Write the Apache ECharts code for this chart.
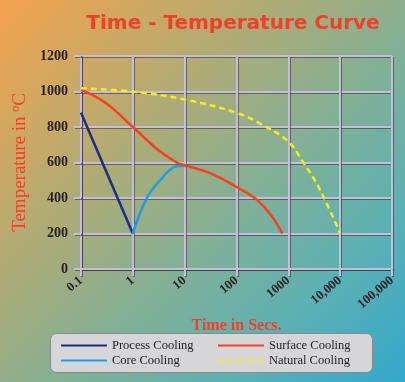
<!DOCTYPE html>
<html><head><meta charset="utf-8">
<script src="https://cdn.jsdelivr.net/npm/echarts@6/dist/echarts.min.js"></script>
<style>
html,body{margin:0;padding:0;}
body{width:405px;height:382px;background:linear-gradient(135deg,#f4a24c 0%,#d0a862 18%,#a8ac7a 38%,#80b098 58%,#5cb0b4 78%,#34a8cc 100%);}
#c{width:405px;height:382px;}
</style></head>
<body><div id="c"></div>
<script>
const xTickLabels = {'0.1':'0.1','1':'1','10':'10','100':'100','1000':'1000','10000':'10,000','100000':'100,000'};
const seriesNames = ['Process Cooling','Core Cooling','Surface Cooling','Natural Cooling'];
const processCooling = [[0.1,880],[1,200]];
const coreCooling = [[1,200],[1.9,405],[3.8,518],[6,572],[8.5,582],[11,580]];
const surfaceCooling = [[0.1,1010],[0.3,935],[1,800],[3.1,670],[7,600],[10,585],[31,540],[100,462],[250,389],[500,290],[760,200]];
const naturalCooling = [[0.1,1018],[1,999],[10,955],[100,880],[320,811],[1000,717],[1900,605],[4100,445],[10000,200]];

const chart = echarts.init(document.getElementById('c'), null, {renderer:'canvas'});
const gridLine = {color:'#c6bed6', width:2, shadowColor:'rgba(50,40,60,0.55)', shadowBlur:0, shadowOffsetX:1, shadowOffsetY:1};
const serif = '"Liberation Serif","DejaVu Serif",serif';
chart.setOption({
  backgroundColor:'transparent',
  animation:false,
  title:{text:'Time - Temperature Curve', left:228, top:9, textAlign:'center',
    textStyle:{fontFamily:'"DejaVu Sans",sans-serif', fontWeight:'bold', fontSize:20, color:'#f0402a'}},
  graphic:[{type:'rect', left:50, top:333, shape:{width:322, height:39, r:6},
    style:{fill:'#d6d6d8', stroke:'#8a8a8a', lineWidth:1}}],
  legend:[
    {data:['Process Cooling','Core Cooling'], orient:'vertical', left:55, top:334, itemWidth:46, itemHeight:10, itemGap:2,
     itemStyle:{opacity:0}, textStyle:{fontFamily:serif, fontSize:12.5, color:'#222'}},
    {data:['Surface Cooling','Natural Cooling'], orient:'vertical', left:212, top:334, itemWidth:46, itemHeight:10, itemGap:2,
     itemStyle:{opacity:0}, textStyle:{fontFamily:serif, fontSize:12.5, color:'#222'}}
  ],
  grid:{left:81, right:13, top:56, bottom:113},
  xAxis:{type:'log', logBase:10, min:0.1, max:100000, splitNumber:6,
    name:'Time in Secs.', nameLocation:'middle', nameGap:43,
    nameTextStyle:{fontFamily:serif, fontWeight:'bold', fontSize:16, color:'#f0402a'},
    axisLine:{show:true, lineStyle:gridLine},
    axisTick:{show:true, length:7, lineStyle:gridLine},
    splitLine:{show:true, lineStyle:gridLine},
    axisLabel:{rotate:40, margin:10, fontFamily:serif, fontWeight:'bold', fontSize:13, color:'#2a2222',
      formatter:function(v){ const k = String(+v.toPrecision(6)); return xTickLabels[k] !== undefined ? xTickLabels[k] : ''; }}
  },
  yAxis:{type:'value', min:0, max:1200, interval:200,
    name:'Temperature in {sup|o}C', nameLocation:'middle', nameGap:49, nameRotate:90,
    nameTextStyle:{fontFamily:serif, fontSize:19, color:'#f0402a', rich:{sup:{fontFamily:serif, fontSize:12, color:'#f0402a', verticalAlign:'top', padding:[0,0,8,0]}}},
    axisLine:{show:true, lineStyle:gridLine},
    axisTick:{show:true, length:7, lineStyle:gridLine},
    splitLine:{show:true, lineStyle:gridLine},
    axisLabel:{margin:13, fontFamily:serif, fontWeight:'bold', fontSize:14, color:'#2a2222',
      formatter:function(v){ return String(v); }}
  },
  series:[
    {name:seriesNames[0], type:'line', data:processCooling, symbol:'none', lineStyle:{color:'#1e2d84', width:2.5}, itemStyle:{color:'#1e2d84'}},
    {name:seriesNames[1], type:'line', data:coreCooling, smooth:0.4, symbol:'none', lineStyle:{color:'#1e9ee0', width:2.5}, itemStyle:{color:'#1e9ee0'}},
    {name:seriesNames[2], type:'line', data:surfaceCooling, smooth:0.4, symbol:'none', lineStyle:{color:'#f4421e', width:2.5}, itemStyle:{color:'#f4421e'}},
    {name:seriesNames[3], type:'line', data:naturalCooling, smooth:0.4, symbol:'none', lineStyle:{color:'#f6ec1e', width:2.5, type:[6,4]}, itemStyle:{color:'#f6ec1e'}}
  ]
});
</script></body></html>
